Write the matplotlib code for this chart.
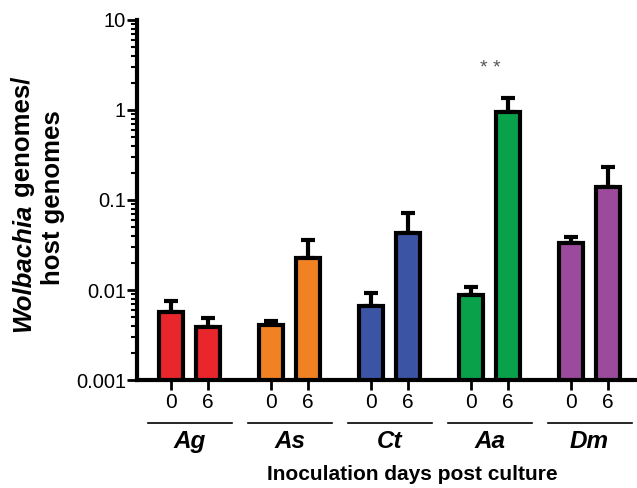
import numpy as np
import matplotlib.pyplot as plt
from matplotlib.transforms import blended_transform_factory

plt.rcParams['font.family'] = ['Liberation Sans', 'DejaVu Sans']

# data (log scale)
species = ['Ag', 'As', 'Ct', 'Aa', 'Dm']
days = ['0', '6']
day0 = [0.0057, 0.0041, 0.0066, 0.0088, 0.033]
day6 = [0.0039, 0.0227, 0.043, 0.955, 0.14]
err0 = [0.0018, 0.0004, 0.0027, 0.0020, 0.006]
err6 = [0.0010, 0.0133, 0.029, 0.415, 0.094]
colors = ['#E8262B', '#F08224', '#3B55A4', '#0AA14B', '#9B4A9C']

fig = plt.figure(figsize=(6.37, 4.88), dpi=100)
ax = fig.add_axes([137 / 637, 108 / 488, 500 / 637, 360 / 488])

groups = np.arange(len(species))
off = 0.185
x0 = groups - off
x6 = groups + off
w = 0.235

for xs, vals, errs in [(x0, day0, err0), (x6, day6, err6)]:
    ax.errorbar(xs, vals, yerr=[np.zeros(len(vals)), errs], fmt='none',
                ecolor='black', elinewidth=3, capsize=5, capthick=3, zorder=1)
    ax.bar(xs, vals, width=w, color=colors, edgecolor='black', linewidth=3, zorder=2)

ax.set_yscale('log')
ax.set_ylim(0.001, 10)
ax.set_xlim(-0.525, 4.475)
ax.set_yticks([0.001, 0.01, 0.1, 1, 10])
ax.set_yticklabels(['0.001', '0.01', '0.1', '1', '10'], fontsize=14.5)
ax.tick_params(axis='y', which='major', length=7, width=2, pad=1)
ax.tick_params(axis='y', which='minor', length=4, width=1.5)

ax.set_xticks(np.concatenate([x0, x6]))
ax.set_xticklabels(days[:1] * 5 + days[1:] * 5, fontsize=15)
ax.tick_params(axis='x', length=7, width=2, pad=2)

for s in ['top', 'right']:
    ax.spines[s].set_visible(False)
for s in ['left', 'bottom']:
    ax.spines[s].set_linewidth(3)

# group labels with underline
trans = blended_transform_factory(ax.transData, ax.transAxes)
for g, name in zip(groups, species):
    ax.plot([g - 0.42, g + 0.42], [-0.119, -0.119], color='black', lw=1.2,
            transform=trans, clip_on=False)
    ax.text(g, -0.172, name, transform=trans, ha='center', va='center',
            fontsize=17.5, fontweight='bold', fontstyle='italic')

ax.text(412 / 637, 13 / 488, 'Inoculation days post culture', transform=fig.transFigure,
        ha='center', va='center', fontsize=15, fontweight='bold')

# significance marker
ax.text(x6[3] - 0.18, 2.9, '* *', ha='center', va='center', fontsize=14, color='#555555')

# y label: two lines, Wolbachia italic
t1 = fig.text(23 / 637, 1 - 332 / 488, 'Wolbachia', rotation=90, ha='center', va='bottom',
              fontsize=18.5, fontweight='bold', fontstyle='italic')
ax.annotate(' genomes/', xy=(0.5, 1), xycoords=t1, rotation=90, ha='center', va='bottom',
            fontsize=18.5, fontweight='bold', annotation_clip=False)
fig.text(53 / 637, 1 - 198 / 488, 'host genomes', rotation=90, ha='center', va='center',
         fontsize=18.5, fontweight='bold')

fig.savefig('out.png', dpi=100)
